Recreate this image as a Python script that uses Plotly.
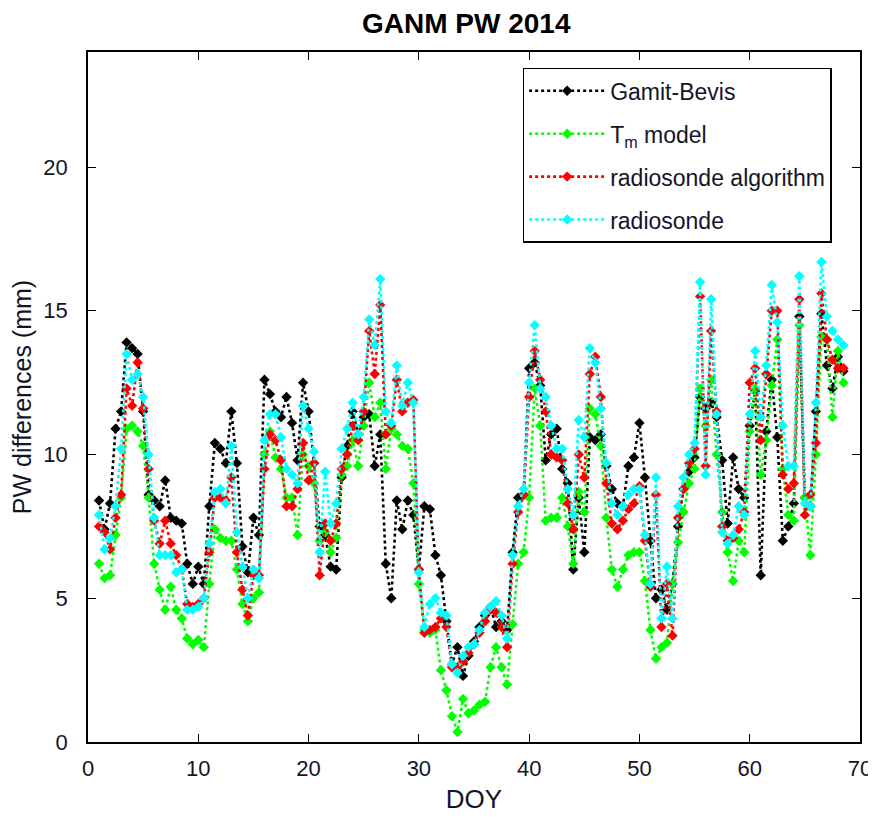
import plotly.graph_objects as go

doy = [1.0 + 0.5 * i for i in range(136)]

gamit_bevis = [
    8.4, 7.4, 8.3, 10.9, 11.5, 13.9, 13.7, 13.5, 11.5, 8.6,
    8.4, 8.2, 9.1, 7.8, 7.7, 7.6, 6.2, 5.5, 6.1, 5.5,
    8.2, 10.4, 10.2, 9.7, 11.5, 9.7, 6.8, 5.9, 7.8, 7.2,
    12.6, 12.1, 11.5, 11.3, 12.0, 11.1, 9.8, 12.5, 11.5, 9.7,
    7.5, 7.2, 6.1, 6.0, 9.2, 10.3, 11.5, 10.7, 11.3, 11.4,
    9.6, 10.7, 6.2, 5.0, 8.4, 7.4, 8.4, 7.9, 6.0, 8.2,
    8.1, 6.5, 5.8, 4.2, 2.7, 3.3, 2.3, 3.0, 3.5, 4.0,
    4.4, 4.7, 4.0, 4.2, 3.9, 6.6, 8.5, 8.6, 13.0, 13.2,
    12.4, 9.8, 10.7, 10.9, 9.5, 9.0, 6.0, 8.5, 6.6, 10.6,
    10.5, 10.7, 9.6, 8.8, 8.3, 8.2, 9.6, 9.9, 11.1, 9.2,
    7.0, 5.0, 5.3, 4.6, 5.5, 7.5, 8.8, 9.4, 9.9, 12.0,
    11.6, 11.8, 11.3, 9.8, 7.6, 9.9, 8.8, 8.5, 11.0, 12.2,
    5.8, 10.8, 12.6, 10.6, 7.0, 7.5, 8.3, 14.8, 8.5, 8.2,
    11.5, 14.9, 13.1, 12.3, 13.4, 12.9,
]

tm_model = [
    6.2, 5.7, 5.8, 7.2, 8.5, 10.9, 11.0, 10.8, 10.3, 8.5,
    6.2, 5.3, 4.6, 5.4, 4.6, 4.3, 3.6, 3.4, 3.55, 3.3,
    5.5, 7.4, 7.1, 7.0, 7.0, 6.0, 4.8, 4.2, 5.0, 5.2,
    10.0, 10.8, 9.9, 9.5, 8.5, 8.5, 7.2, 10.0, 9.6, 9.0,
    7.0, 7.3, 6.6, 7.1, 9.3, 9.6, 10.5, 9.6, 11.0, 12.5,
    11.3, 11.8, 9.5, 10.9, 10.7, 10.3, 10.2, 9.0, 5.5, 3.9,
    3.8, 3.9, 2.5, 1.8, 0.9, 0.35, 1.5, 1.0, 1.1, 1.3,
    1.4, 2.6, 3.3, 2.6, 2.0, 4.1, 6.2, 6.6, 8.5, 12.3,
    11.0, 7.7, 7.8, 7.8, 8.5, 7.5, 6.2, 8.7, 8.0, 11.6,
    11.4, 10.3, 7.8, 6.0, 5.4, 6.0, 6.5, 6.6, 6.6, 5.6,
    3.9, 2.9, 3.3, 3.45, 5.5, 6.95, 8.0, 9.0, 9.5, 12.3,
    11.0, 12.6, 10.0, 8.0, 6.6, 5.6, 7.0, 6.6, 10.8, 12.3,
    9.3, 10.5, 12.4, 14.0, 9.5, 7.9, 7.7, 14.5, 8.5, 6.5,
    10.0, 14.1, 14.0, 11.3, 13.6, 12.5,
]

radiosonde_algorithm = [
    7.5, 7.3, 6.7, 7.8, 8.6, 12.3, 11.7, 13.2, 11.6, 9.5,
    7.7, 6.9, 7.7, 6.9, 6.5, 6.0, 4.8, 4.7, 4.8, 5.0,
    6.6, 8.5, 8.5, 8.4, 9.2, 6.6, 5.3, 4.4, 5.8, 5.8,
    9.5, 10.7, 10.5, 9.8, 8.2, 8.2, 8.8, 10.4, 9.1, 9.7,
    5.8, 7.6, 7.0, 7.6, 9.5, 10.0, 11.0, 10.5, 11.5, 14.3,
    12.8, 15.2, 10.7, 11.0, 12.6, 11.5, 11.8, 11.9, 6.0, 3.8,
    3.9, 4.0, 4.3, 4.0, 2.6, 2.6, 2.8, 3.1, 3.4, 3.8,
    4.2, 4.6, 4.5, 4.0, 3.3, 6.2, 8.0, 8.6, 12.0, 13.6,
    12.6, 11.5, 10.0, 9.9, 9.8, 8.3, 7.4, 10.0, 9.2, 12.8,
    13.4, 12.0, 9.0, 7.6, 7.4, 7.7, 8.1, 8.3, 8.9, 7.0,
    5.4, 8.6, 4.0, 5.5, 3.7, 7.8, 8.8, 9.7, 10.2, 15.5,
    9.6, 14.3, 11.5, 7.5, 7.0, 7.1, 7.4, 8.0, 12.5, 13.0,
    10.5, 12.8, 15.0, 15.0, 9.3, 8.8, 9.0, 15.4, 7.9, 8.6,
    10.4, 15.6, 14.0, 13.3, 13.0, 13.0,
]

radiosonde = [
    7.9, 6.7, 7.1, 8.2, 10.2, 13.5, 12.6, 12.8, 12.0, 10.0,
    7.8, 6.5, 6.5, 6.5, 5.9, 6.0, 4.6, 4.6, 4.7, 5.0,
    6.9, 8.7, 8.8, 8.3, 10.3, 7.3, 6.1, 5.0, 6.0, 5.7,
    10.5, 11.4, 11.4, 10.6, 9.5, 9.3, 9.0, 11.7, 10.9, 10.1,
    6.6, 9.4, 7.6, 8.3, 10.2, 10.9, 11.8, 10.7, 12.0, 14.7,
    13.8, 16.1, 11.5, 11.1, 13.1, 11.7, 12.5, 11.8, 5.9, 4.0,
    4.8, 5.0, 4.5, 4.4, 2.7, 2.4, 3.0, 3.3, 3.4, 3.9,
    4.5, 4.7, 4.9, 4.4, 3.6, 6.5, 8.2, 8.8, 12.5, 14.5,
    12.3, 12.0, 11.0, 10.2, 10.2, 8.8, 7.9, 11.2, 10.6, 13.7,
    13.2, 11.6, 9.7, 8.3, 7.9, 8.2, 8.6, 8.8, 8.8, 7.2,
    5.5, 9.2, 4.3, 6.1, 4.3, 8.2, 9.2, 10.0, 10.4, 16.0,
    9.3, 15.4, 11.4, 7.3, 6.9, 7.2, 8.2, 7.9, 11.4, 13.6,
    11.3, 13.1, 15.9, 14.6, 11.0, 9.6, 9.6, 16.2, 8.3, 8.2,
    11.8, 16.7, 14.8, 14.3, 14.0, 13.8,
]

series_names = ["Gamit-Bevis", "T<sub>m</sub> model", "radiosonde algorithm", "radiosonde"]
series_values = [gamit_bevis, tm_model, radiosonde_algorithm, radiosonde]
series_colors = ["#000000", "#00FF00", "#FF0000", "#00FFFF"]

x_ticks = [0, 10, 20, 30, 40, 50, 60, 70]
y_ticks = [0, 5, 10, 15, 20]

FONT = "Liberation Sans, Arial, sans-serif"
TXT = "#141428"

fig = go.Figure()
for i, (name, vals, col) in enumerate(zip(series_names, series_values, series_colors)):
    fig.add_trace(go.Scatter(
        x=doy, y=vals, name=name, mode="lines+markers",
        legendgroup=f"g{i}",
        line=dict(color=col, width=2.6, dash="dot"),
        marker=dict(symbol="diamond", size=8, color=col),
    ))

axis_common = dict(
    showline=True, linecolor="#000000", linewidth=1.5, mirror="allticks",
    ticks="inside", ticklen=8, tickwidth=1.2, tickcolor="#000000",
    showgrid=False, zeroline=False, ticklabeloverflow="allow",
    tickfont=dict(family=FONT, size=22, color=TXT),
)

fig.update_layout(
    width=876, height=818,
    paper_bgcolor="white", plot_bgcolor="white",
    margin=dict(l=76, r=12, t=44, b=84),
    title=dict(text="<b>GANM PW 2014</b>", xref="paper", x=0.49, xanchor="center",
               yref="container", y=0.981, yanchor="middle",
               font=dict(family=FONT, size=28, color="#000000")),
    xaxis=dict(range=[0, 70], tickvals=x_ticks, ticklabelstandoff=6,
               title=dict(text="DOY", font=dict(family=FONT, size=26, color=TXT), standoff=10),
               **axis_common),
    yaxis=dict(range=[0, 24], tickvals=y_ticks, ticklabelstandoff=14,
               title=dict(text="PW differences (mm)", font=dict(family=FONT, size=25, color=TXT), standoff=6),
               **axis_common),
    legend=dict(x=0.563, y=0.977, xanchor="left", yanchor="top",
                bgcolor="white", bordercolor="#000000", borderwidth=1.5,
                font=dict(family=FONT, size=23, color=TXT),
                tracegroupgap=10, itemwidth=76),
    showlegend=True,
)

fig.write_html("out.html")
